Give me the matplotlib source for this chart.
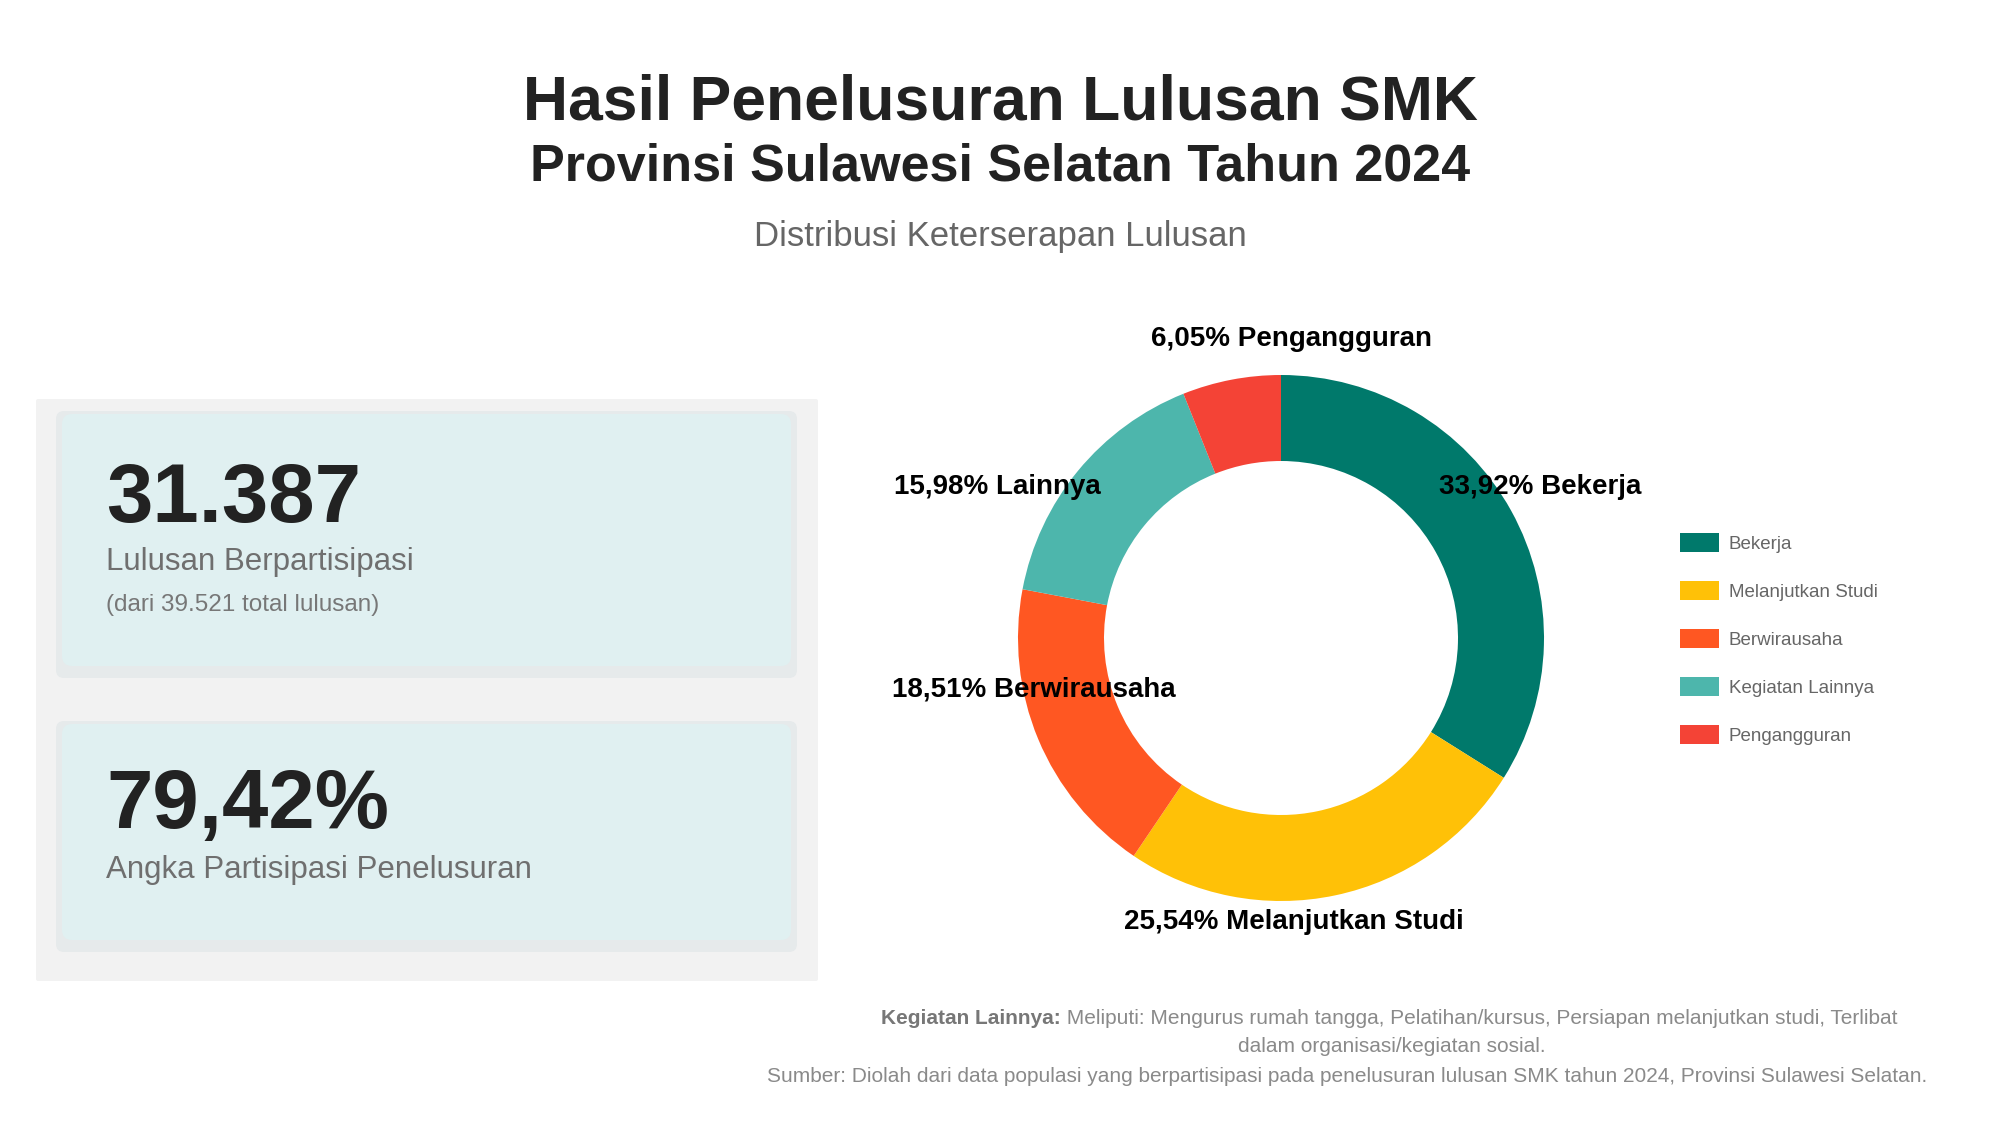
import matplotlib.pyplot as plt
import matplotlib.patches as mpatches

# data
categories = ['Bekerja', 'Melanjutkan Studi', 'Berwirausaha', 'Kegiatan Lainnya', 'Pengangguran']
short_names = ['Bekerja', 'Melanjutkan Studi', 'Berwirausaha', 'Lainnya', 'Pengangguran']
percentages = [33.92, 25.54, 18.51, 15.98, 6.05]
colors = ['#00796b', '#ffc107', '#ff5722', '#4db6ac', '#f44336']

participants = '31.387'
total_graduates = '39.521'
participation_rate = '79,42%'

W, H = 2000, 1125
plt.rcParams['font.family'] = ['Liberation Sans', 'DejaVu Sans']

fig = plt.figure(figsize=(W / 100, H / 100), dpi=100)
fig.patch.set_facecolor('white')


def fx(x):
    return x / W


def fy(y):
    return 1 - y / H


def box(x0, y0, x1, y1, color, r=6, z=0):
    # pixel coords (top-left origin) -> inches
    p = mpatches.FancyBboxPatch((x0 / 100, (H - y1) / 100), (x1 - x0) / 100, (y1 - y0) / 100,
                                boxstyle=f'round,pad=0,rounding_size={r / 100}',
                                transform=fig.dpi_scale_trans, facecolor=color,
                                edgecolor='none', zorder=z)
    fig.patches.append(p)


# titles
fig.text(fx(1000), fy(103), 'Hasil Penelusuran Lulusan SMK', ha='center', va='center',
         fontsize=45, fontweight='bold', color='#222222')
fig.text(fx(1000), fy(167), 'Provinsi Sulawesi Selatan Tahun 2024', ha='center', va='center',
         fontsize=37.5, fontweight='bold', color='#222222')
fig.text(fx(1000), fy(236), 'Distribusi Keterserapan Lulusan', ha='center', va='center',
         fontsize=25, color='#666666')

# left panel with two cards
box(36, 399, 818, 981, '#f2f2f2', r=2)
for (y0, y1) in [(411, 678), (721, 952)]:
    box(56, y0, 797, y1, '#e6eaeb', r=8, z=1)
    box(62, y0 + 3, 791, y1 - 12, '#e0f0f1', r=10, z=2)

fig.text(fx(106), fy(500), participants, ha='left', va='center',
         fontsize=60, fontweight='bold', color='#222222', zorder=3)
fig.text(fx(106), fy(562), 'Lulusan Berpartisipasi', ha='left', va='center',
         fontsize=22.5, color='#6f6f6f', zorder=3)
fig.text(fx(106), fy(605), f'(dari {total_graduates} total lulusan)', ha='left', va='center',
         fontsize=17.5, color='#777777', zorder=3)
fig.text(fx(106), fy(806), participation_rate, ha='left', va='center',
         fontsize=60, fontweight='bold', color='#222222', zorder=3)
fig.text(fx(106), fy(870), 'Angka Partisipasi Penelusuran', ha='left', va='center',
         fontsize=22.5, color='#6f6f6f', zorder=3)

# donut chart
cx, cy, R = 1281, 638, 263
k = 1.3
side = 2 * k * R
ax = fig.add_axes([(cx - side / 2) / W, (H - cy - side / 2) / H, side / W, side / H])
wedges, _ = ax.pie(percentages, colors=colors, startangle=90, counterclock=False, radius=1,
                   wedgeprops=dict(width=0.327, linewidth=0))
ax.set_xlim(-k, k)
ax.set_ylim(-k, k)
ax.set_aspect('equal')
ax.axis('off')

# label positions in units of the outer radius
label_xy = [(0.985, 0.575), (0.05, -1.08), (-0.94, -0.195), (-1.08, 0.575), (0.04, 1.135)]
for name, pct, (lx, ly) in zip(short_names, percentages, label_xy):
    txt = f'{pct:.2f}'.replace('.', ',') + '% ' + name
    ax.text(lx, ly, txt, ha='center', va='center', fontsize=20, fontweight='bold',
            color='black', zorder=5)

# legend
leg = fig.legend(wedges, categories, loc='upper left', bbox_to_anchor=(fx(1663), fy(516)),
                 frameon=False, fontsize=13.5, labelspacing=1.5, handlelength=2.1,
                 handleheight=1.2, handletextpad=0.5)
for t in leg.get_texts():
    t.set_color('#666666')

# footnotes
t1 = fig.text(fx(881), fy(1018), 'Kegiatan Lainnya:', ha='left', va='center',
              fontsize=15, fontweight='bold', color='#777777')
ax.annotate(' Meliputi: Mengurus rumah tangga, Pelatihan/kursus, Persiapan melanjutkan studi, Terlibat',
            xy=(1, 0.5), xycoords=t1, ha='left', va='center', fontsize=15, color='#8a8a8a')
fig.text(fx(1392), fy(1046), 'dalam organisasi/kegiatan sosial.', ha='center', va='center',
         fontsize=15, color='#8a8a8a')
fig.text(fx(1347), fy(1076),
         'Sumber: Diolah dari data populasi yang berpartisipasi pada penelusuran lulusan SMK tahun 2024, Provinsi Sulawesi Selatan.',
         ha='center', va='center', fontsize=15, color='#8a8a8a')

fig.savefig('out.png', dpi=100)
